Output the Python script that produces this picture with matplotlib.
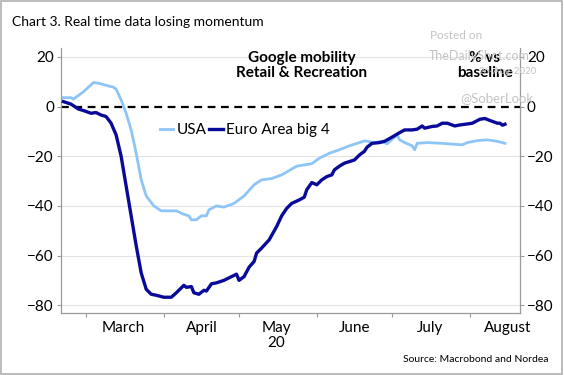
import numpy as np
import matplotlib
matplotlib.use("Agg")
import matplotlib.pyplot as plt
from matplotlib.patches import Rectangle

plt.rcParams['font.family'] = ['Lato', 'DejaVu Sans']

# days counted from 1 March 2020, values = % vs baseline
usa_days = [-9, -6, -5, -1, 3, 5, 9, 11, 12, 14, 16, 18, 20, 22, 24, 27, 30, 32, 36, 39,
            41, 42, 44, 46, 48, 49, 52, 55, 59, 63, 67, 70, 74, 78, 84, 90, 93, 97, 101,
            105, 109, 111, 115, 118, 120, 122, 124, 125, 127, 130, 131, 132, 136, 142,
            147, 150, 152, 156, 160, 164, 167]
usa_vals = [3.6, 3.6, 3.0, 6.0, 9.7, 9.4, 8.3, 7.8, 7.0, 2.7, -2.7, -9.4, -18.8, -29.5,
            -36.0, -40.0, -42.0, -42.0, -42.0, -43.4, -44.0, -45.6, -45.6, -44.0, -44.0,
            -41.6, -40.0, -40.5, -39.0, -36.0, -31.5, -29.5, -29.0, -27.5, -24.0, -23.0,
            -20.8, -18.8, -17.4, -15.8, -14.5, -13.8, -14.5, -14.0, -15.0, -13.2, -11.4,
            -13.4, -14.5, -15.8, -17.4, -14.8, -14.5, -14.8, -15.2, -15.4, -14.5, -13.7,
            -13.4, -14.0, -14.8]

euro_days = [-9, -6, -3, -1, 2, 4, 6, 8, 10, 12, 14, 16, 18, 20, 22, 24, 26, 28, 31, 34,
             36, 39, 40, 42, 43, 45, 47, 48, 50, 52, 55, 57, 60, 61, 63, 65, 67, 68, 70,
             73, 76, 78, 80, 82, 85, 87, 88, 90, 92, 94, 96, 98, 99, 101, 103, 107, 109,
             111, 112, 114, 117, 119, 122, 125, 127, 130, 132, 134, 135, 138, 140, 142,
             144, 147, 149, 152, 154, 157, 159, 161, 164, 165, 166, 167]
euro_vals = [2.0, 1.0, -1.0, -1.6, -2.7, -2.4, -3.4, -4.0, -6.7, -11.4, -20.0, -32.0,
             -44.0, -56.0, -67.0, -73.6, -75.6, -76.0, -76.8, -76.8, -75.0, -72.0, -72.8,
             -72.5, -75.0, -75.6, -74.0, -74.3, -71.4, -71.0, -70.0, -69.0, -67.5, -70.0,
             -68.5, -64.7, -62.4, -59.0, -57.0, -53.7, -48.3, -44.0, -41.0, -39.0, -37.6,
             -36.5, -33.5, -30.6, -31.5, -29.5, -28.2, -27.5, -25.5, -24.0, -22.8, -21.5,
             -19.5, -18.0, -16.4, -14.8, -14.5, -14.0, -12.3, -10.5, -9.4, -9.4, -9.1,
             -7.8, -8.7, -8.0, -7.8, -6.7, -6.7, -7.8, -7.4, -7.0, -6.7, -5.1, -4.8, -5.6,
             -6.7, -6.7, -7.5, -7.1]

months = ["March", "April", "May", "June", "July", "August"]
yticks = [20, 0, -20, -40, -60, -80]

start = np.datetime64('2020-03-01')
usa_x = start + np.array(usa_days).astype('timedelta64[D]')
euro_x = start + np.array(euro_days).astype('timedelta64[D]')

light = '#8ec5f7'
dark = '#0a0a9a'
grey = '#9a9a9a'

fig = plt.figure(figsize=(5.64, 3.75), dpi=100)
ax = fig.add_axes([0.108, 0.165, 0.814, 0.707])

for v in yticks:
    if v != 0:
        ax.axhline(v, color='#e4e4e4', lw=0.8, zorder=0)
ax.axhline(0, color='black', lw=1.6, ls=(0, (3.5, 2.5)), zorder=1)

ax.plot(usa_x, usa_vals, color=light, lw=2.0, label='USA', zorder=2)
ax.plot(euro_x, euro_vals, color=dark, lw=2.4, label='Euro Area big 4', zorder=3)

ax.set_xlim(np.datetime64('2020-02-20'), np.datetime64('2020-08-21'))
ax.set_ylim(-83.2, 23.6)

# month boundaries as small ticks, labels mid-month
bounds = [np.datetime64('2020-%02d-01' % m) for m in range(3, 9)]
mids = [np.datetime64('2020-%02d-16' % m) for m in range(3, 9)]
ax.set_xticks(bounds, minor=True)
ax.set_xticks(mids)
ax.set_xticklabels(months)
ax.tick_params(axis='x', which='major', length=0, labelsize=11, pad=6)
ax.tick_params(axis='x', which='minor', length=3, color=grey, width=0.8)
ax.text(np.datetime64('2020-05-16'), -92.5, '20', ha='center', va='top', fontsize=11)

ax.set_yticks(yticks)
ax.tick_params(axis='y', which='both', labelsize=11, length=3, color=grey,
               left=True, right=True, labelleft=True, labelright=True, pad=2)

ax.spines['top'].set_visible(False)
for s in ['left', 'right', 'bottom']:
    ax.spines[s].set_color(grey)
    ax.spines[s].set_linewidth(0.9)

ax.legend(loc='center left', bbox_to_anchor=(0.215, 0.69), ncol=2, frameon=False,
          fontsize=11, handlelength=0.9, handletextpad=0.2, columnspacing=0.2,
          borderaxespad=0, borderpad=0)

fig.text(0.022, 0.94, 'Chart 3. Real time data losing momentum', fontsize=10,
         ha='left', va='center')
fig.text(0.535, 0.825, 'Google mobility\nRetail & Recreation', fontsize=11,
         fontweight='bold', ha='center', va='center', linespacing=1.1)
fig.text(0.86, 0.825, '% vs\nbaseline', fontsize=11, fontweight='bold',
         ha='center', va='center', linespacing=1.1)
fig.text(0.972, 0.04, 'Source: Macrobond and Nordea', fontsize=7.5, ha='right',
         va='center')

# watermark (overlaps the label in the original too)
wm = '#c4c4c4'
fig.text(0.808, 0.905, 'Posted on', fontsize=8.5, color=wm, ha='center', va='center')
fig.text(0.85, 0.852, 'TheDailyShot.com', fontsize=9, color=wm, ha='center', va='center')
fig.text(0.9, 0.81, '26-Aug-2020', fontsize=7, color=wm, ha='center', va='center')
fig.text(0.88, 0.738, '@SoberLook', fontsize=9.5, color=wm, ha='center', va='center')

fig.add_artist(Rectangle((0.002, 0.003), 0.995, 0.994, transform=fig.transFigure,
                         fill=False, edgecolor='#b0b0b0', lw=1.2))

fig.savefig('out.png', dpi=100)
